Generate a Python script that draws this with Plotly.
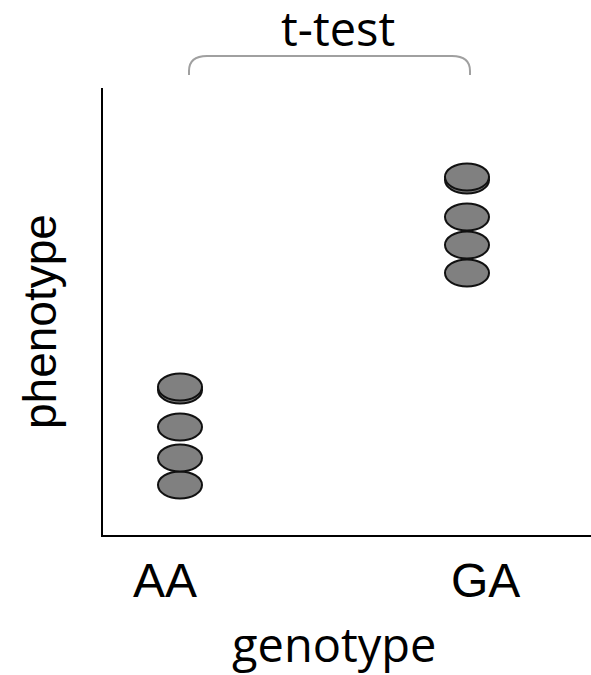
import plotly.graph_objects as go

genotypes = ["AA", "GA"]
aa_pheno = [5.0, 7.7, 10.8, 14.5, 14.8]
ga_pheno = [26.2, 29.0, 31.8, 35.5, 35.8]
group_pos = {"AA": 0, "GA": 1}

fig = go.Figure()

shapes = []
for g, vals in (("AA", aa_pheno), ("GA", ga_pheno)):
    for v in vals:
        shapes.append(dict(
            type="circle", xref="x", yref="y",
            xsizemode="pixel", ysizemode="pixel",
            xanchor=group_pos[g], yanchor=v,
            x0=-22, x1=22, y0=-13.5, y1=13.5,
            fillcolor="#808080", line=dict(color="#111111", width=2),
            layer="above",
        ))

# invisible points (for hover)
fig.add_trace(go.Scatter(
    x=[group_pos["AA"]] * len(aa_pheno) + [group_pos["GA"]] * len(ga_pheno),
    y=aa_pheno + ga_pheno, mode="markers",
    marker=dict(size=1, opacity=0), showlegend=False, hoverinfo="y"))

# bracket (paper coords)
L, R, T = 103, 591, 88
B = 535
W, H = R - L, B - T
def px(x):
    return (x - L) / W
def py(y):
    return (B - y) / H
xl, xr, yt, yb = 189, 470, 56, 75
rx, ry = 18, 15
path = (f"M {px(xl)},{py(yb)} L {px(xl)},{py(yt+ry)} "
        f"Q {px(xl)},{py(yt)} {px(xl+rx)},{py(yt)} "
        f"L {px(xr-rx)},{py(yt)} Q {px(xr)},{py(yt)} {px(xr)},{py(yt+ry)} "
        f"L {px(xr)},{py(yb)}")
shapes.append(dict(type="path", xref="paper", yref="paper", path=path,
                   line=dict(color="#a0a0a0", width=2)))

annotations = [
    dict(text="t-test", x=px(338), y=py(28), xref="paper", yref="paper",
         showarrow=False, font=dict(family="Open Sans", size=47, color="black"),
         height=48, valign="middle",
         xanchor="center", yanchor="middle"),
    dict(text="AA", x=px(164.5), y=py(580), xref="paper", yref="paper",
         showarrow=False, font=dict(family="Liberation Sans", size=48, color="black"),
         xanchor="center", yanchor="middle"),
    dict(text="GA", x=px(485), y=py(580), xref="paper", yref="paper",
         showarrow=False, font=dict(family="Liberation Sans", size=48, color="black"),
         xanchor="center", yanchor="middle"),
    dict(text="genotype", x=px(334), y=py(644), xref="paper", yref="paper",
         showarrow=False, font=dict(family="Open Sans", size=47, color="black"),
         xanchor="center", yanchor="middle"),
    dict(text="phenotype", x=px(40), y=py(322), xref="paper", yref="paper",
         showarrow=False, textangle=-90,
         font=dict(family="Liberation Sans", size=46, color="black"),
         xanchor="center", yanchor="middle"),
]

fig.update_layout(
    width=591, height=675,
    margin=dict(l=L, r=591 - R, t=T, b=675 - B),
    paper_bgcolor="white", plot_bgcolor="white",
    shapes=shapes, annotations=annotations,
    xaxis=dict(range=[-(180 - L) / 287, 1 + (R - 467) / 287], showgrid=False,
               zeroline=False, showticklabels=False, ticks="",
               showline=True, linecolor="black", linewidth=2, fixedrange=True),
    yaxis=dict(range=[0, H / 10], showgrid=False, zeroline=False,
               showticklabels=False, ticks="", showline=True,
               linecolor="black", linewidth=2, fixedrange=True),
    showlegend=False,
)

fig.write_html("out.html", config={"displayModeBar": False},
               post_script="document.body.style.margin='0';document.body.style.overflow='hidden';")
